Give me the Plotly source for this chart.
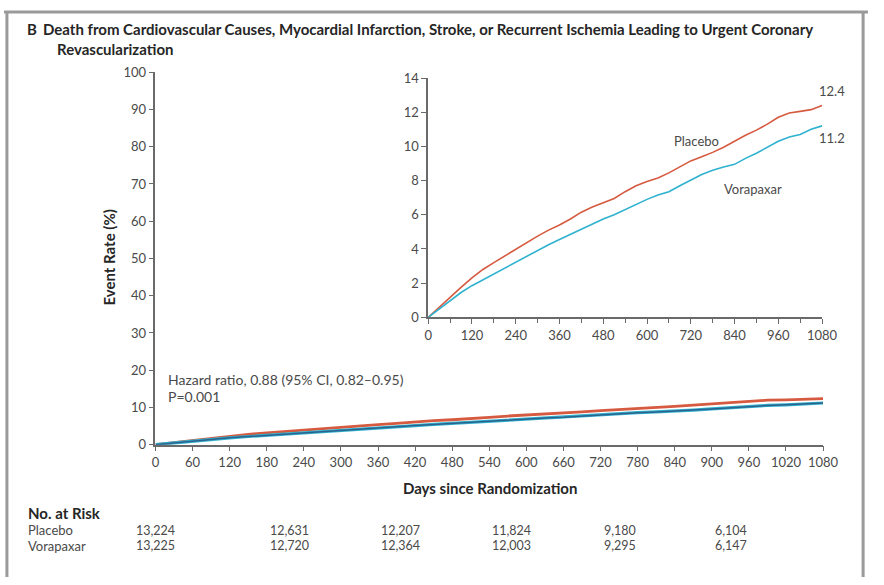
import plotly.graph_objects as go

# Cumulative event rates (%) read every 30 days
days = list(range(0, 1081, 30))
placebo = [0, 0.6, 1.2, 1.75, 2.3, 2.8, 3.2, 3.6, 3.95, 4.35, 4.75, 5.1, 5.4,
           5.75, 6.15, 6.45, 6.7, 6.95, 7.35, 7.7, 7.95, 8.15, 8.45, 8.8, 9.15,
           9.4, 9.65, 9.95, 10.3, 10.65, 10.95, 11.3, 11.7, 11.95, 12.05, 12.15, 12.4]
vorapaxar = [0, 0.5, 1.0, 1.45, 1.85, 2.2, 2.55, 2.9, 3.2, 3.55, 3.9, 4.25, 4.55,
             4.85, 5.15, 5.45, 5.75, 6.0, 6.3, 6.6, 6.9, 7.15, 7.35, 7.7, 8.05,
             8.35, 8.6, 8.8, 8.95, 9.3, 9.6, 9.95, 10.3, 10.55, 10.7, 11.0, 11.2]

# Numbers at risk
risk_days = [0, 180, 360, 540, 720, 900]
risk_placebo = ["13,224", "12,631", "12,207", "11,824", "9,180", "6,104"]
risk_vorapaxar = ["13,225", "12,720", "12,364", "12,003", "9,295", "6,147"]

main_xticks = list(range(0, 1081, 60))
main_yticks = list(range(0, 101, 10))
inset_xticks = list(range(0, 1081, 120))
inset_yticks = list(range(0, 15, 2))

W, H = 884, 585
FONT = "Lato, Open Sans, sans-serif"
RED = "#d65a40"
CYAN = "#2fb2cf"
NAVY = "#2c628d"
AX = "#6a6a6a"
TXT = "#4a4a4a"
DARK = "#262626"


def px(x):
    return x / W


def py(y):
    return 1 - y / H


fig = go.Figure()

# Main panel
fig.add_trace(go.Scatter(x=days, y=placebo, mode="lines", line=dict(color=RED, width=2.8),
                         xaxis="x", yaxis="y", showlegend=False))
fig.add_trace(go.Scatter(x=days, y=vorapaxar, mode="lines", line=dict(color=CYAN, width=3.2),
                         xaxis="x", yaxis="y", showlegend=False))
fig.add_trace(go.Scatter(x=days, y=vorapaxar, mode="lines", line=dict(color=NAVY, width=1.5),
                         xaxis="x", yaxis="y", showlegend=False))

# Inset panel
fig.add_trace(go.Scatter(x=days, y=placebo, mode="lines", line=dict(color=RED, width=1.6),
                         xaxis="x2", yaxis="y2", showlegend=False))
fig.add_trace(go.Scatter(x=days, y=vorapaxar, mode="lines", line=dict(color=CYAN, width=1.6),
                         xaxis="x2", yaxis="y2", showlegend=False))

axis_common = dict(showgrid=False, zeroline=False, showline=True, linecolor=AX, linewidth=1.5,
                   ticks="outside", tickcolor=AX, tickwidth=1.2, ticklen=5,
                   tickfont=dict(family=FONT, size=13, color=TXT))

fig.update_layout(
    width=W, height=H,
    margin=dict(l=0, r=0, t=0, b=0),
    paper_bgcolor="white", plot_bgcolor="rgba(0,0,0,0)",
    font=dict(family=FONT, color=TXT),
    xaxis=dict(domain=[px(155), px(838)], range=[0, 1080], tickvals=main_xticks,
               anchor="y", **axis_common),
    yaxis=dict(domain=[py(449), py(66)], range=[0, 100], tickvals=main_yticks,
               anchor="x", **axis_common),
    xaxis2=dict(domain=[px(434), px(837)], range=[0, 1080], tickvals=inset_xticks,
                anchor="y2", minor=dict(dtick=60, tick0=0, ticks="outside", ticklen=4,
                                        tickcolor=AX, tickwidth=1.2),
                **axis_common),
    yaxis2=dict(domain=[py(318), py(72)], range=[0, 14], tickvals=inset_yticks,
                anchor="x2", **axis_common),
)

ann = []
# Title
ann.append(dict(x=px(21), y=py(22), xref="paper", yref="paper", xanchor="left", yanchor="middle",
                text="<b>B</b>", showarrow=False, font=dict(family=FONT, size=15, color=DARK)))
ann.append(dict(x=px(38), y=py(22), xref="paper", yref="paper", xanchor="left", yanchor="middle",
                text="<b>Death from Cardiovascular Causes, Myocardial Infarction, Stroke, or Recurrent Ischemia Leading to Urgent Coronary</b>",
                showarrow=False, font=dict(family=FONT, size=15, color=DARK)))
ann.append(dict(x=px(52), y=py(42), xref="paper", yref="paper", xanchor="left", yanchor="middle",
                text="<b>Revascularization</b>", showarrow=False,
                font=dict(family=FONT, size=15, color=DARK)))

# Y axis title
ann.append(dict(x=px(107), y=py(257), xref="paper", yref="paper", xanchor="center", yanchor="middle",
                text="<b>Event Rate (%)</b>", textangle=-90, showarrow=False,
                font=dict(family=FONT, size=15, color=DARK)))

# Hazard ratio text
ann.append(dict(x=px(166), y=py(382), xref="paper", yref="paper", xanchor="left", yanchor="middle",
                text="Hazard ratio, 0.88 (95% CI, 0.82\u20130.95)", showarrow=False,
                font=dict(family=FONT, size=14, color=TXT)))
ann.append(dict(x=px(166), y=py(399), xref="paper", yref="paper", xanchor="left", yanchor="middle",
                text="P=0.001", showarrow=False, font=dict(family=FONT, size=14, color=TXT)))

# Inset labels
ann.append(dict(x=803, y=10.3, xref="x2", yref="y2", xanchor="right", yanchor="middle",
                text="Placebo", showarrow=False, font=dict(family=FONT, size=13, color=TXT)))
ann.append(dict(x=890, y=7.5, xref="x2", yref="y2", xanchor="center", yanchor="middle",
                text="Vorapaxar", showarrow=False, font=dict(family=FONT, size=13, color=TXT)))
ann.append(dict(x=1080, y=placebo[-1], xref="x2", yref="y2", xanchor="center", yanchor="bottom",
                yshift=4, xshift=10, text=f"{placebo[-1]:.1f}", showarrow=False,
                font=dict(family=FONT, size=13, color=TXT)))
ann.append(dict(x=1080, y=vorapaxar[-1], xref="x2", yref="y2", xanchor="center", yanchor="top",
                yshift=-2, xshift=10, text=f"{vorapaxar[-1]:.1f}", showarrow=False,
                font=dict(family=FONT, size=13, color=TXT)))

# X axis title
ann.append(dict(x=px(497), y=py(493), xref="paper", yref="paper", xanchor="center", yanchor="middle",
                text="<b>Days since Randomization</b>", showarrow=False,
                font=dict(family=FONT, size=15, color=DARK)))

# Number at risk table
ann.append(dict(x=px(23), y=py(519), xref="paper", yref="paper", xanchor="left", yanchor="middle",
                text="<b>No. at Risk</b>", showarrow=False, font=dict(family=FONT, size=15, color=DARK)))
ann.append(dict(x=px(23), y=py(537), xref="paper", yref="paper", xanchor="left", yanchor="middle",
                text="Placebo", showarrow=False, font=dict(family=FONT, size=13, color=TXT)))
ann.append(dict(x=px(23), y=py(553), xref="paper", yref="paper", xanchor="left", yanchor="middle",
                text="Vorapaxar", showarrow=False, font=dict(family=FONT, size=13, color=TXT)))
for i, d in enumerate(risk_days):
    shift = -21 if d == 0 else 1
    ann.append(dict(x=d, y=py(537), xref="x", yref="paper", xanchor="left", yanchor="middle",
                    xshift=shift, text=risk_placebo[i], showarrow=False,
                    font=dict(family=FONT, size=12.5, color=TXT)))
    ann.append(dict(x=d, y=py(553), xref="x", yref="paper", xanchor="left", yanchor="middle",
                    xshift=shift, text=risk_vorapaxar[i], showarrow=False,
                    font=dict(family=FONT, size=12.5, color=TXT)))

fig.update_layout(annotations=ann)

# Panel frame
frame = dict(xref="paper", yref="paper", line=dict(color="#9a9a9a", width=3))
fig.add_shape(type="line", x0=0, x1=1, y0=py(4), y1=py(4), **frame)
fig.add_shape(type="line", x0=px(3), x1=px(3), y0=py(4), y1=0, **frame)
fig.add_shape(type="line", x0=px(879), x1=px(879), y0=py(4), y1=0, **frame)

fig.write_html("out.html")
